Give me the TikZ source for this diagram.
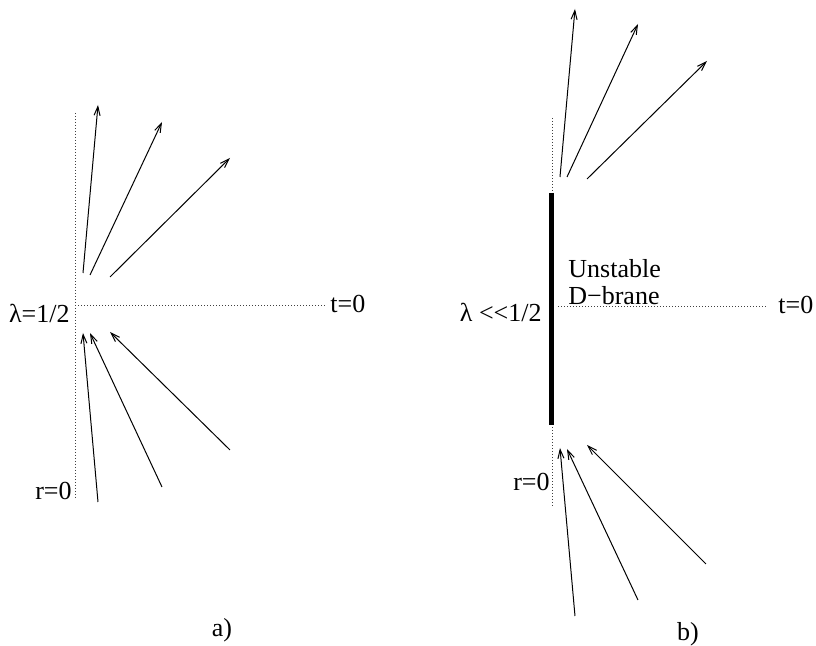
\documentclass[tikz,border=0pt]{standalone}
\usepackage{fontspec}
\setmainfont{Liberation Serif}
\usetikzlibrary{arrows.meta}

\begin{document}
\begin{tikzpicture}[
    x=0.5pt, y=-0.5pt,
    font=\fontsize{13}{15}\selectfont,
    axis/.style={draw=black!75, line width=0.5pt, dash pattern=on 0.5pt off 1pt},
    ray/.style={-{Straight Barb[length=4.5pt,width=3pt]}, line width=0.5pt},
    brane/.style={line width=2.6pt},
    lbl/.style={inner sep=0pt},
]
\useasboundingbox (0,0) rectangle (816,646);

% panel a)
\coordinate (a-top) at (75,113);
\coordinate (a-bot) at (75,500);
\coordinate (a-t0)  at (78,306);
\coordinate (a-end) at (325,306);
\draw[axis] (a-top) -- (a-bot);
\draw[axis] (a-t0) -- (a-end);
\node[lbl, anchor=base west] (tA)   at (330,313) {t=0};
\node[lbl, anchor=base east] (lamA) at (70,323)  {λ=1/2};
\node[lbl, anchor=base east] (rA)   at (72,500)  {r=0};
\node[lbl, anchor=base]      (capA) at (222,637) {a)};
\foreach \sx/\sy/\ex/\ey [count=\i] in {83/273/98/105, 90/275/162/122, 110/277/230/158,
                                        98/502/83/333, 162/487/90/333, 230/450/110/332} {
  \coordinate (a-s\i) at (\sx,\sy);
  \coordinate (a-e\i) at (\ex,\ey);
  \draw[ray] (a-s\i) -- (a-e\i);
}

% panel b)
\coordinate (b-top) at (552,118);
\coordinate (b-bot) at (552,507);
\coordinate (b-t0)  at (558,307);
\coordinate (b-end) at (768,307);
\coordinate (br-top) at (551.5,193);
\coordinate (br-bot) at (551.5,425);
\draw[axis] (b-top) -- (b-bot);
\draw[axis] (b-t0) -- (b-end);
\draw[brane] (br-top) -- (br-bot);
\node[lbl, anchor=base west] (tB)   at (778,314) {t=0};
\node[lbl, anchor=base east] (lamB) at (542,322) {λ {<}{<}1/2};
\node[lbl, anchor=base east] (rB)   at (550,491) {r=0};
\node[lbl, anchor=base west] (unst) at (568,278) {Unstable};
\node[lbl, anchor=base west] (dbr)  at (568,305) {D−brane};
\node[lbl, anchor=base]      (capB) at (688,641) {b)};
\foreach \sx/\sy/\ex/\ey [count=\i] in {560/177/575/9, 567/177/638/24, 587/179/707/61,
                                        575/616/560/448, 638/600/567/449, 706/564/587/445} {
  \coordinate (b-s\i) at (\sx,\sy);
  \coordinate (b-e\i) at (\ex,\ey);
  \draw[ray] (b-s\i) -- (b-e\i);
}
\end{tikzpicture}
\end{document}
